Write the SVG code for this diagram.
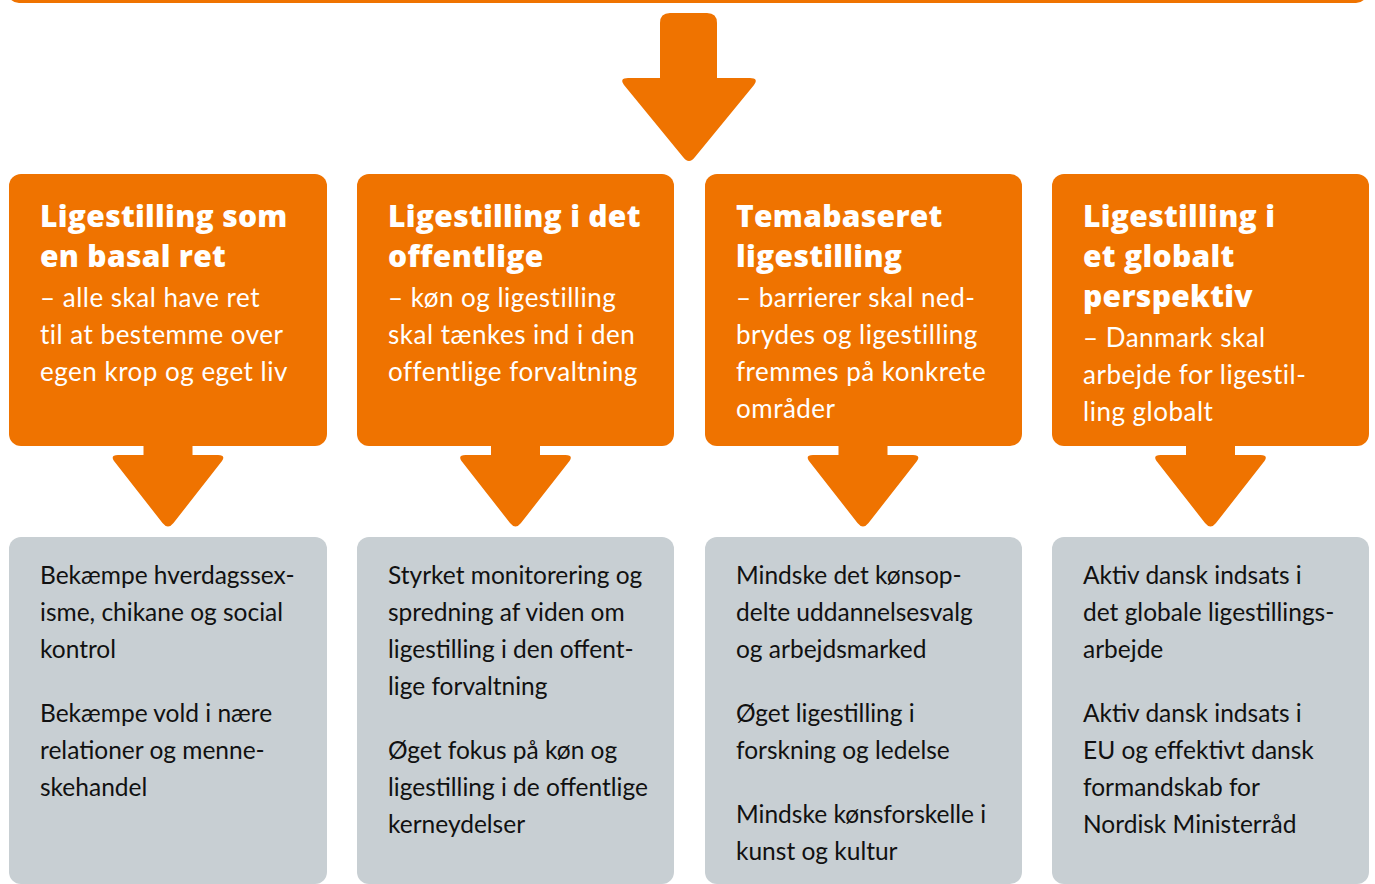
<svg xmlns="http://www.w3.org/2000/svg" width="1375" height="884" viewBox="0 0 1375 884">
<style>
.ob{fill:#EF7300}
.gb{fill:#C8CFD3}
.ar{fill:#EF7300}
.t{font-family:"Open Sans","Liberation Sans",sans-serif;font-weight:800;font-size:30px;fill:#fff;letter-spacing:0.3px}
.s{font-family:Lato,"Liberation Sans",sans-serif;font-weight:400;font-size:26px;fill:#fff;letter-spacing:0.5px}
.g{font-family:Lato,"Liberation Sans",sans-serif;font-weight:400;font-size:24.5px;fill:#111}
</style>
<defs>
<path id="sa" d="M-24.5 440 H24.5 V455 H50 Q58 455 54 461 L5.5 523 Q0 530 -5.5 523 L-54 461 Q-58 455 -50 455 H-24.5 Z"/>
</defs>
<rect x="9" y="-40" width="1357" height="41.5" rx="10" fill="none" stroke="#EF7300" stroke-width="3"/>
<g id="connectors">
<path class="ar" d="M670 13 H707 Q717 13 717 23 V78 H750 Q759 78 754 85 L695 157 Q689 165 683 157 L624 85 Q619 78 628 78 H660 V23 Q660 13 670 13 Z"/>
<use href="#sa" class="ar" x="168"/>
<use href="#sa" class="ar" x="515.5"/>
<use href="#sa" class="ar" x="863"/>
<use href="#sa" class="ar" x="1210.5"/>
</g>
<g id="node1">
<rect class="ob" x="9" y="174" width="318" height="272" rx="12"/>
<text class="t" x="40" y="227">Ligestilling som</text>
<text class="t" x="40" y="267">en basal ret</text>
<text class="s" x="40" y="307">– alle skal have ret</text>
<text class="s" x="40" y="344">til at bestemme over</text>
<text class="s" x="40" y="381">egen krop og eget liv</text>
</g>
<g id="node2">
<rect class="ob" x="357" y="174" width="317" height="272" rx="12"/>
<text class="t" x="388" y="227">Ligestilling i det</text>
<text class="t" x="388" y="267">offentlige</text>
<text class="s" x="388" y="307">– køn og ligestilling</text>
<text class="s" x="388" y="344">skal tænkes ind i den</text>
<text class="s" x="388" y="381">offentlige forvaltning</text>
</g>
<g id="node3">
<rect class="ob" x="705" y="174" width="317" height="272" rx="12"/>
<text class="t" x="736" y="227">Temabaseret</text>
<text class="t" x="736" y="267">ligestilling</text>
<text class="s" x="736" y="307">– barrierer skal ned-</text>
<text class="s" x="736" y="344">brydes og ligestilling</text>
<text class="s" x="736" y="381">fremmes på konkrete</text>
<text class="s" x="736" y="418">områder</text>
</g>
<g id="node4">
<rect class="ob" x="1052" y="174" width="317" height="272" rx="12"/>
<text class="t" x="1083" y="227">Ligestilling i</text>
<text class="t" x="1083" y="267">et globalt</text>
<text class="t" x="1083" y="307">perspektiv</text>
<text class="s" x="1083" y="347">– Danmark skal</text>
<text class="s" x="1083" y="384">arbejde for ligestil-</text>
<text class="s" x="1083" y="421">ling globalt</text>
</g>
<g id="node5">
<rect class="gb" x="9" y="537" width="318" height="347" rx="12"/>
<text class="g" x="40" y="584">Bekæmpe hverdagssex-</text>
<text class="g" x="40" y="621">isme, chikane og social</text>
<text class="g" x="40" y="658">kontrol</text>
<text class="g" x="40" y="722">Bekæmpe vold i nære</text>
<text class="g" x="40" y="759">relationer og menne-</text>
<text class="g" x="40" y="796">skehandel</text>
</g>
<g id="node6">
<rect class="gb" x="357" y="537" width="317" height="347" rx="12"/>
<text class="g" x="388" y="584">Styrket monitorering og</text>
<text class="g" x="388" y="621">spredning af viden om</text>
<text class="g" x="388" y="658">ligestilling i den offent-</text>
<text class="g" x="388" y="695">lige forvaltning</text>
<text class="g" x="388" y="759">Øget fokus på køn og</text>
<text class="g" x="388" y="796">ligestilling i de offentlige</text>
<text class="g" x="388" y="833">kerneydelser</text>
</g>
<g id="node7">
<rect class="gb" x="705" y="537" width="317" height="347" rx="12"/>
<text class="g" x="736" y="584">Mindske det kønsop-</text>
<text class="g" x="736" y="621">delte uddannelsesvalg</text>
<text class="g" x="736" y="658">og arbejdsmarked</text>
<text class="g" x="736" y="722">Øget ligestilling i</text>
<text class="g" x="736" y="759">forskning og ledelse</text>
<text class="g" x="736" y="823">Mindske kønsforskelle i</text>
<text class="g" x="736" y="860">kunst og kultur</text>
</g>
<g id="node8">
<rect class="gb" x="1052" y="537" width="317" height="347" rx="12"/>
<text class="g" x="1083" y="584">Aktiv dansk indsats i</text>
<text class="g" x="1083" y="621">det globale ligestillings-</text>
<text class="g" x="1083" y="658">arbejde</text>
<text class="g" x="1083" y="722">Aktiv dansk indsats i</text>
<text class="g" x="1083" y="759">EU og effektivt dansk</text>
<text class="g" x="1083" y="796">formandskab for</text>
<text class="g" x="1083" y="833">Nordisk Ministerråd</text>
</g>
</svg>
